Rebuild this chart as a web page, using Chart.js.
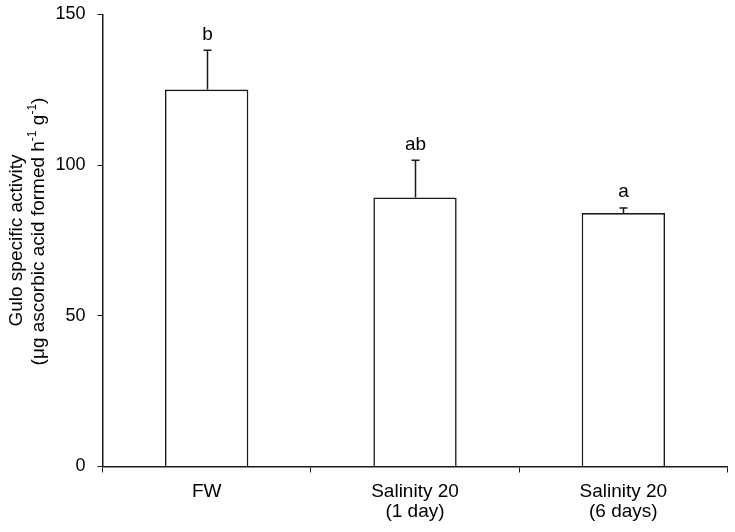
<!DOCTYPE html>
<html>
<head>
<meta charset="utf-8">
<script src="https://cdn.jsdelivr.net/npm/chart.js@4.4.1/dist/chart.umd.min.js"></script>
<style>
  html, body { margin: 0; padding: 0; background: #fff; }
  #wrap { width: 735px; height: 532px; }
</style>
</head>
<body>
<div id="wrap"><canvas id="chart" width="735" height="532"></canvas></div>
<script>
// values
const categories = ['FW', ['Salinity 20', '(1 day)'], ['Salinity 20', '(6 days)']];
const activity = [125.1, 89.3, 84.1];
const errorUp = [13.0, 12.3, 1.7];
const letters = ['b', 'ab', 'a'];
const yTicks = [0, 50, 100, 150];

const FONT = 'Liberation Sans, Arial, sans-serif';
const INK = '#000';
const LINE = '#1a1a1a';

// error bars (upper half only) + significance letters
const errorBarPlugin = {
  id: 'errorBars',
  afterDatasetsDraw(chart) {
    const ctx = chart.ctx;
    const y = chart.scales.y;
    const meta = chart.getDatasetMeta(0);
    ctx.save();
    ctx.strokeStyle = LINE;
    ctx.lineWidth = 1.5;
    meta.data.forEach((bar, i) => {
      const x = Math.round(bar.x) + 0.5;
      const yTop = y.getPixelForValue(activity[i] + errorUp[i]);
      const yBar = y.getPixelForValue(activity[i]);
      ctx.beginPath();
      ctx.moveTo(x, yBar);
      ctx.lineTo(x, yTop);
      ctx.moveTo(x - 4, yTop);
      ctx.lineTo(x + 4, yTop);
      ctx.stroke();
      ctx.fillStyle = INK;
      ctx.font = '19px ' + FONT;
      ctx.textAlign = 'center';
      ctx.textBaseline = 'middle';
      ctx.fillText(letters[i], x, yTop - 16);
    });
    ctx.restore();
  }
};

// rotated y axis title with superscripts
const yTitlePlugin = {
  id: 'yTitle',
  afterDraw(chart) {
    const ctx = chart.ctx;
    const area = chart.chartArea;
    const cy = (area.top + area.bottom) / 2;
    ctx.save();
    ctx.fillStyle = INK;
    ctx.textBaseline = 'middle';

    ctx.save();
    ctx.translate(17, cy);
    ctx.rotate(-Math.PI / 2);
    ctx.font = '19px ' + FONT;
    ctx.textAlign = 'center';
    ctx.fillText('Gulo specific activity', 0, 0);
    ctx.restore();

    const parts = [
      { t: '(μg ascorbic acid formed h' },
      { t: '-1', sup: true },
      { t: ' g' },
      { t: '-1', sup: true },
      { t: ')' }
    ];
    ctx.save();
    ctx.translate(39, cy - 9);
    ctx.rotate(-Math.PI / 2);
    ctx.textAlign = 'left';
    let total = 0;
    parts.forEach(p => {
      ctx.font = (p.sup ? '12px ' : '19px ') + FONT;
      p.w = ctx.measureText(p.t).width;
      total += p.w;
    });
    let x = -total / 2;
    parts.forEach(p => {
      ctx.font = (p.sup ? '12px ' : '19px ') + FONT;
      ctx.fillText(p.t, x, p.sup ? -6 : 0);
      x += p.w;
    });
    ctx.restore();
    ctx.restore();
  }
};

new Chart(document.getElementById('chart'), {
  type: 'bar',
  data: {
    labels: categories,
    datasets: [{
      data: activity,
      backgroundColor: '#fff',
      borderColor: LINE,
      borderWidth: 1.6,
      barPercentage: 0.4,
      categoryPercentage: 1.0
    }]
  },
  options: {
    responsive: false,
    animation: false,
    layout: { padding: { top: 14.5, right: 7.5, left: 0, bottom: 0 } },
    plugins: {
      legend: { display: false },
      tooltip: { enabled: false }
    },
    scales: {
      x: {
        grid: { offset: true, drawOnChartArea: false, drawTicks: true, tickLength: 6, color: LINE },
        border: { display: true, color: LINE, width: 1.5 },
        ticks: { color: INK, font: { family: FONT, size: 19, lineHeight: 1.05 }, padding: 9, maxRotation: 0 },
        afterFit(scale) {
          scale.height = 65.5;
          scale.paddingLeft = 0;
          scale.paddingRight = 0;
        }
      },
      y: {
        min: 0,
        max: 150,
        afterBuildTicks(scale) { scale.ticks = yTicks.map(v => ({ value: v })); },
        grid: { drawOnChartArea: false, drawTicks: true, tickLength: 5, color: LINE },
        border: { display: true, color: LINE, width: 1.5 },
        ticks: { color: INK, font: { family: FONT, size: 18 }, padding: 12 },
        afterFit(scale) {
          scale.width = 102.5;
          scale.paddingTop = 0;
          scale.paddingBottom = 0;
        }
      }
    }
  },
  plugins: [errorBarPlugin, yTitlePlugin]
});
</script>
</body>
</html>
